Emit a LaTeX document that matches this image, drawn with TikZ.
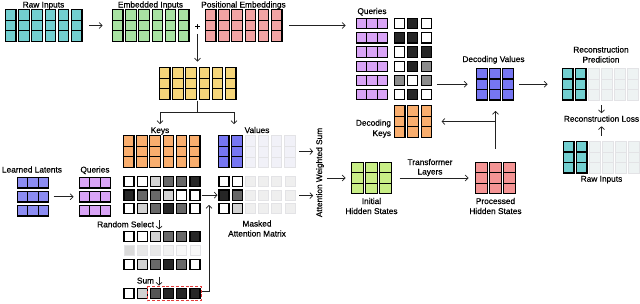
\documentclass[tikz,border=0pt]{standalone}
\usepackage{fontspec}
\setmainfont{Liberation Sans}[FakeBold=0.5]
\usetikzlibrary{arrows.meta}
\definecolor{cteal}{HTML}{72CFD0}
\definecolor{cgreen}{HTML}{A8E2A2}
\definecolor{cpink}{HTML}{F2A3A3}
\definecolor{cyellow}{HTML}{F6D67A}
\definecolor{corange}{HTML}{F9AE6E}
\definecolor{cblue}{HTML}{7676F2}
\definecolor{clatent}{HTML}{8C8CF2}
\definecolor{cviolet}{HTML}{D9A4F6}
\definecolor{clime}{HTML}{C8EE86}
\definecolor{cred}{HTML}{F49494}
\definecolor{cfadev}{HTML}{F1F1F8}
\definecolor{cfadeg}{HTML}{EFEFEF}
\definecolor{cfadet}{HTML}{EEF3F3}
\definecolor{cfadeline}{HTML}{E3E3E6}
\definecolor{cw}{HTML}{FFFFFF}
\definecolor{cl}{HTML}{D2D2D2}
\definecolor{cm}{HTML}{8C8C8C}
\definecolor{cd}{HTML}{686868}
\definecolor{cs}{HTML}{555555}
\definecolor{cb}{HTML}{262626}
\definecolor{f1}{HTML}{DADADA}
\definecolor{f2}{HTML}{E8E8E8}
\definecolor{f3}{HTML}{F2F2F2}
\definecolor{f4}{HTML}{F8F8F8}
\definecolor{cline}{HTML}{222222}
\definecolor{credbox}{HTML}{E23A3A}

\tikzset{
  cell/.style={draw=black, line width=1.1pt},
  fadecell/.style={draw=cfadeline, line width=0.8pt},
  arr/.style={draw=cline, line width=0.7pt, -{Straight Barb[length=2.8pt,width=6pt]}},
  ln/.style={draw=cline, line width=0.7pt},
  lbl/.style={font=\fontsize{8.3}{10}\selectfont, inner sep=0pt, outer sep=0pt, anchor=base, text=black},
  gbox/.style={inner sep=0pt, outer sep=0pt, anchor=north west, draw=none},
  redbox/.style={draw=credbox, line width=1pt, dash pattern=on 3pt off 1.8pt},
}

% column grids: x y ncols colw pitch cellh style
\newcommand\cgrid[7]{%
  \foreach \ci in {1,...,#3}{\foreach \cj in {0,1,2}{%
    \path[#7] ({#1+(\ci-1)*#5},{#2+\cj*#6}) rectangle ++(#4,#6);}}}
% row grids: x y nrows cellw pitch cellh style
\newcommand\rgrid[7]{%
  \foreach \cj in {1,...,#3}{\foreach \ci in {0,1,2}{%
    \path[#7] ({#1+\ci*#4},{#2+(\cj-1)*#5}) rectangle ++(#4,#6);}}}
% matrix row: x y pitch w h colours style
\newcommand\mrow[7]{%
  \foreach \cc [count=\k from 0] in {#6}{%
    \path[#7,fill=\cc] ({#1+\k*#3},#2) rectangle ++(#4,#5);}}

\begin{document}
\begin{tikzpicture}[x=1pt,y=-1pt]
\useasboundingbox[fill=white] (0,0) rectangle (640,303);

% ---------- top row ----------
\cgrid{5.5}{9.5}{6}{10.5}{13.2}{10.7}{cell,fill=cteal}
\node[gbox,minimum width=76.5pt,minimum height=32pt] (raw) at (5.5,9.5) {};
\node[lbl] (lraw) at (43.5,7.5) {Raw Inputs};

\cgrid{112.5}{9.5}{6}{10.5}{13.2}{10.7}{cell,fill=cgreen}
\node[gbox,minimum width=76.5pt,minimum height=32pt] (emb) at (112.5,9.5) {};
\node[lbl] (lemb) at (150.5,7.5) {Embedded Inputs};

\node[inner sep=0pt,font=\fontsize{9.5}{10}\selectfont] (plus) at (197.5,27) {+};

\cgrid{205.5}{9.5}{6}{10.5}{13.2}{10.7}{cell,fill=cpink}
\node[gbox,minimum width=76.5pt,minimum height=32pt] (pos) at (205.5,9.5) {};
\node[lbl] (lpos) at (243.5,7.5) {Positional Embeddings};

\draw[arr] ([xshift=7pt]raw.east) -- ([xshift=-10pt]emb.west);

% yellow
\cgrid{159.5}{67.5}{6}{10.5}{13.2}{10.7}{cell,fill=cyellow}
\node[gbox,minimum width=76.5pt,minimum height=32pt] (yel) at (159.5,67.5) {};
\draw[arr] ([yshift=-4pt]plus.south) -- ([yshift=6pt]plus.south |- yel.north);
\coordinate (sp) at (197.5,112);
\coordinate (kin) at (160,124);
\coordinate (vin) at (234,124);
\draw[ln] ([yshift=-1pt]plus.south |- yel.south) -- (sp);
\draw[arr] (sp) -| (kin);
\draw[arr] (sp) -| (vin);

% keys & values
\node[lbl] (lkeys) at (160,133) {Keys};
\cgrid{123.5}{135.5}{6}{10.5}{13.2}{10.7}{cell,fill=corange}
\node[gbox,minimum width=76.5pt,minimum height=32pt] (keys) at (123.5,135.5) {};

\node[lbl] (lvals) at (257,133) {Values};
\cgrid{218.5}{135.5}{2}{10.5}{13.2}{10.7}{cell,fill=cblue}
\cgrid{244.9}{135.5}{4}{10.5}{13.2}{10.7}{fadecell,fill=cfadev}
\node[gbox,minimum width=76.5pt,minimum height=32pt] (vals) at (218.5,135.5) {};

% attention matrix
\mrow{124}{176.5}{13.2}{10}{10.3}{cw,cw,cl,cd,cd,cb}{cell}
\mrow{124}{190}{13.2}{10}{10.3}{cb,cd,cd,cl,cw,cw}{cell}
\mrow{124}{203.5}{13.2}{10}{10.3}{cw,cl,cd,cb,cd,cw}{cell}
\node[gbox,minimum width=76pt,minimum height=37.3pt] (attn) at (124,176.5) {};

% masked attention matrix
\mrow{219}{176.5}{13.2}{10}{10.3}{cw,cw}{cell}
\mrow{219}{190}{13.2}{10}{10.3}{cb,cd}{cell}
\mrow{219}{203.5}{13.2}{10}{10.3}{cw,cl}{cell}
\mrow{245.4}{176.5}{13.2}{10}{10.3}{cfadeg,cfadeg,cfadeg,cfadeg}{fadecell}
\mrow{245.4}{190}{13.2}{10}{10.3}{cfadeg,cfadeg,cfadeg,cfadeg}{fadecell}
\mrow{245.4}{203.5}{13.2}{10}{10.3}{cfadeg,cfadeg,cfadeg,cfadeg}{fadecell}
\node[gbox,minimum width=76pt,minimum height=37.3pt] (masked) at (219,176.5) {};
\node[lbl] (lmask1) at (257,226.5) {Masked};
\node[lbl] (lmask2) at (257,236.5) {Attention Matrix};

\draw[arr] ([xshift=1.5pt]attn.east) -- ([xshift=-1.5pt]masked.west);

% random select
\node[lbl,anchor=base east] (lrs) at (154,227.3) {Random Select};
\draw[arr] ([xshift=5pt,yshift=1pt]lrs.north east) -- ([xshift=5pt,yshift=-2pt]lrs.south east);
\mrow{124}{231.5}{13.2}{10}{10}{cw,cw,cl,cd,cd,cb}{cell}
\mrow{124}{245.5}{13.2}{10}{10}{f1,f2,f2,f3,f4,f4}{fadecell}
\mrow{124}{259.5}{13.2}{10}{10}{cw,cl,cd,cb,cd,cw}{cell}
\node[gbox,minimum width=76pt,minimum height=38pt] (rsel) at (124,231.5) {};

% sum
\node[lbl,anchor=base east] (lsum) at (154,283.5) {Sum};
\draw[arr] ([xshift=5pt,yshift=1pt]lsum.north east) -- ([xshift=5pt,yshift=-2pt]lsum.south east);
\mrow{124}{288.5}{13.2}{10}{10}{cw,cl,cs,cb,cb,cb}{cell}
\node[gbox,minimum width=54pt,minimum height=14.5pt] (rbox) at (147.5,286.3) {};
\draw[redbox] (rbox.north west) rectangle (rbox.south east);
\coordinate (mk) at (209,205);
\draw[arr] ([yshift=2pt]rbox.east) -| (mk);

% learned latents and queries
\node[lbl] (llat) at (32,172.5) {Learned Latents};
\rgrid{17.5}{177.5}{3}{10.3}{14}{10.5}{cell,fill=clatent}
\node[gbox,minimum width=31pt,minimum height=38.5pt] (lat) at (17.5,177.5) {};
\node[lbl] (lq) at (95,172.5) {Queries};
\rgrid{79.5}{177.5}{3}{10.3}{14}{10.5}{cell,fill=cviolet}
\node[gbox,minimum width=31pt,minimum height=38.5pt] (ql) at (79.5,177.5) {};
\draw[arr] ([xshift=5pt]lat.east) -- ([xshift=-6pt]ql.west);

% attention weighted sum
\node[lbl,anchor=center,rotate=90] (aws) at (320,172.5) {Attention Weighted Sum};
\draw[arr,shorten >=3pt] ([xshift=4pt]vals.east) -- (vals.east -| aws.north);
\draw[arr,shorten >=3pt] ([xshift=4pt,yshift=-0.5pt]masked.east) -- ([yshift=-0.5pt]masked.east -| aws.north);

% initial hidden states
\cgrid{351.5}{162.5}{3}{12}{14}{10.3}{cell,fill=clime}
\node[gbox,minimum width=40pt,minimum height=31pt] (init) at (351.5,162.5) {};
\node[lbl] (linit1) at (371.5,204) {Initial};
\node[lbl] (linit2) at (371.5,214) {Hidden States};
\draw[arr,shorten <=3pt] (init.west -| aws.south) -- ([xshift=-6pt]init.west);

% processed hidden states
\cgrid{475.5}{162.5}{3}{12}{14}{10.3}{cell,fill=cred}
\node[gbox,minimum width=40pt,minimum height=31pt] (proc) at (475.5,162.5) {};
\node[lbl] (lproc1) at (495.5,204) {Processed};
\node[lbl] (lproc2) at (495.5,214) {Hidden States};
\draw[arr] ([xshift=8pt]init.east) -- ([xshift=-7pt]proc.west);
\node[lbl] (ltr1) at (430,165) {Transformer};
\node[lbl] (ltr2) at (430,174.5) {Layers};

% top queries and decoding attention
\node[lbl] (lqt) at (372,14) {Queries};
\rgrid{356.5}{18.5}{6}{10.3}{14.2}{10.3}{cell,fill=cviolet}
\node[gbox,minimum width=31pt,minimum height=81.3pt] (qtop) at (356.5,18.5) {};
\mrow{394.5}{18.5}{13.3}{10}{10.3}{cw,cb,cw}{cell}
\mrow{394.5}{32.7}{13.3}{10}{10.3}{cb,cb,cw}{cell}
\mrow{394.5}{46.9}{13.3}{10}{10.3}{cw,cb,cb}{cell}
\mrow{394.5}{61.1}{13.3}{10}{10.3}{cw,cb,cm}{cell}
\mrow{394.5}{75.3}{13.3}{10}{10.3}{cm,cw,cm}{cell}
\mrow{394.5}{89.5}{13.3}{10}{10.3}{cw,cb,cw}{cell}
\node[gbox,minimum width=36.6pt,minimum height=81.3pt] (tmat) at (394.5,18.5) {};

\draw[arr] ([xshift=7pt]pos.east) -- ([xshift=-11pt]pos.east -| qtop.west);

% decoding keys
\cgrid{394.5}{105.5}{3}{10.5}{13.3}{10.7}{cell,fill=corange}
\node[gbox,minimum width=37.1pt,minimum height=32pt] (dkeys) at (394.5,105.5) {};
\node[lbl,anchor=base east] (ldk1) at (391,125.7) {Decoding};
\node[lbl,anchor=base east] (ldk2) at (391,136) {Keys};

% decoding values
\node[lbl] (ldv) at (493.5,62) {Decoding Values};
\cgrid{476.5}{68.5}{3}{11}{13}{10.5}{cell,fill=cblue}
\node[gbox,minimum width=37pt,minimum height=31.5pt] (dvals) at (476.5,68.5) {};

\draw[arr] ([xshift=6pt]tmat.east |- dvals.west) -- ([xshift=-9pt]dvals.west);
\draw[arr] ([yshift=14pt]proc.north) -- ([yshift=-11pt]dvals.south -| proc.north);
\draw[arr] (proc.north |- dkeys.east) -- ([xshift=10pt]dkeys.east);

% reconstruction
\node[lbl] (lrp1) at (601,52.5) {Reconstruction};
\node[lbl] (lrp2) at (601,62.5) {Prediction};
\cgrid{562.5}{68.5}{2}{10.5}{13}{10.5}{cell,fill=cteal}
\cgrid{588.5}{68.5}{4}{10.5}{13}{10.5}{fadecell,fill=cfadet}
\node[gbox,minimum width=75.5pt,minimum height=31.5pt] (recp) at (562.5,68.5) {};
\draw[arr] ([xshift=5.5pt]dvals.east) -- ([xshift=-15pt]recp.west);

\node[lbl] (rloss) at (601.5,121.7) {Reconstruction Loss};
\draw[arr] ([yshift=-5pt]recp.south -| rloss.north) -- ([yshift=2.5pt]rloss.north);

\cgrid{563.5}{141.5}{2}{10.5}{13}{10.5}{cell,fill=cteal}
\cgrid{589.5}{141.5}{4}{10.5}{13}{10.5}{fadecell,fill=cfadet}
\node[gbox,minimum width=75.5pt,minimum height=31.5pt] (raw2) at (563.5,141.5) {};
\node[lbl] (lraw2) at (601.5,181.7) {Raw Inputs};
\draw[arr] ([yshift=6pt]raw2.north -| rloss.south) -- ([yshift=-4.5pt]rloss.south);

\end{tikzpicture}
\end{document}
